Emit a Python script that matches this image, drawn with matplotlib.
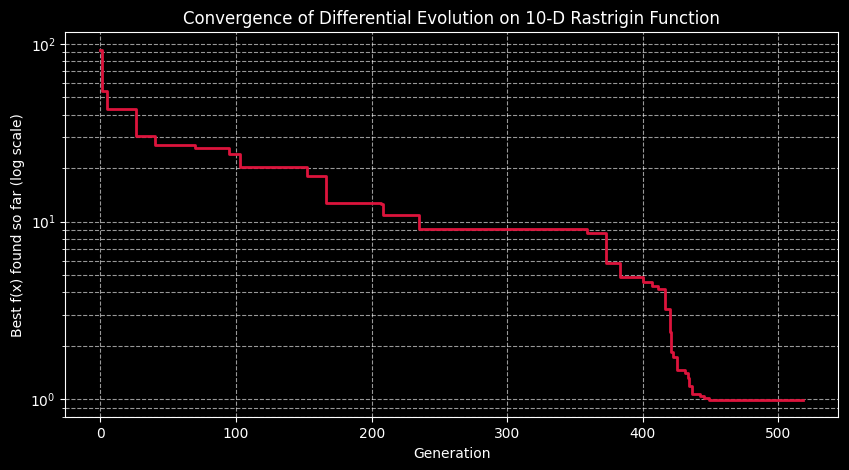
import matplotlib
matplotlib.use("Agg")
import matplotlib.pyplot as plt

# best-so-far values at the generations where they change
generations = [0, 1, 5, 26, 40, 70, 95, 103, 152, 166, 207, 208, 235, 359,
               373, 383, 400, 407, 411, 416, 420, 421, 422, 425, 431, 433,
               434, 436, 442, 445, 449, 518]
best_f = [92.5, 54.0, 42.8, 30.4, 27.1, 26.0, 24.0, 20.4, 18.0, 12.8, 12.5,
          10.85, 9.05, 8.6, 5.85, 4.9, 4.56, 4.37, 4.18, 3.24, 2.4, 1.85,
          1.73, 1.47, 1.40, 1.32, 1.19, 1.067, 1.05, 1.02, 0.995, 0.995]

plt.style.use("dark_background")
fig, ax = plt.subplots(figsize=(8.49, 4.70), dpi=100)
fig.subplots_adjust(left=0.077, right=0.987, bottom=0.112, top=0.931)

ax.plot(generations, best_f, color="crimson", linewidth=2, drawstyle="steps-post")
ax.set_yscale("log")
ax.set_xlabel("Generation")
ax.set_ylabel("Best f(x) found so far (log scale)")
ax.set_title("Convergence of Differential Evolution on 10-D Rastrigin Function")
ax.grid(True, which="both", linestyle="--", alpha=0.6)

fig.savefig("out.png", dpi=100)
